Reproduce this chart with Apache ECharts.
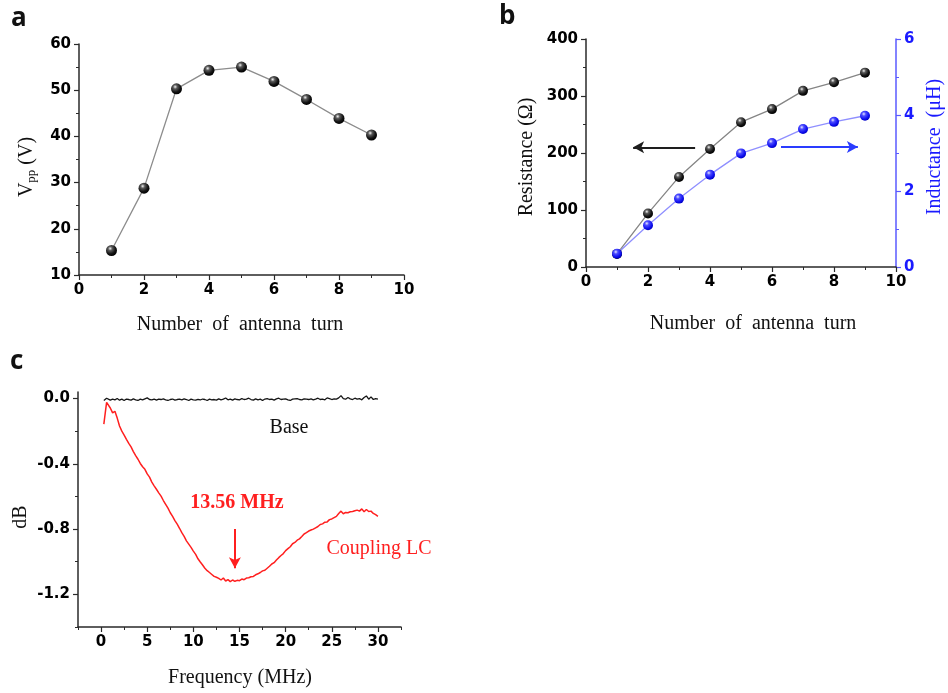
<!DOCTYPE html>
<html>
<head>
<meta charset="utf-8">
<script src="https://cdn.jsdelivr.net/npm/echarts@6/dist/echarts.min.js"></script>
<style>
  html, body { margin: 0; padding: 0; background: #fff; }
  #chart { width: 948px; height: 693px; }
</style>
</head>
<body>
<div id="chart"></div>
<script>
// ---- Panel a / b: antenna turn sweep ----
const turns = [1, 2, 3, 4, 5, 6, 7, 8, 9];
const vppVolts = [15.3, 28.8, 50.3, 54.3, 55.0, 51.9, 48.0, 43.9, 40.3];
const resistanceOhm = [23, 94, 158, 207, 254, 277, 309, 324, 341];
const inductanceUH = [0.35, 1.10, 1.80, 2.43, 2.99, 3.26, 3.63, 3.82, 3.98];

// ---- Panel c: transmission vs frequency [MHz, dB] ----
const baseTrace = [
  [0.3,-0.012],[0.45,-0.002],[0.6,0.002],[0.75,-0.006],[1.0,-0.010],[1.25,-0.004],[1.5,-0.008],[1.75,0.000],
  [2.0,-0.010],[2.25,-0.004],[2.5,-0.012],[2.75,-0.003],[3.0,-0.006],[3.25,-0.010],[3.5,-0.002],[3.75,-0.008],
  [4.0,-0.012],[4.25,-0.004],[4.5,-0.008],[4.75,-0.002],[5.0,0.004],[5.25,-0.006],[5.5,-0.008],[5.75,-0.003],
  [6.0,-0.010],[6.25,-0.004],[6.5,-0.006],[6.75,-0.002],[7.0,-0.008],[7.25,-0.012],[7.5,-0.006],[7.75,-0.003],
  [8.0,-0.010],[8.25,-0.006],[8.5,-0.004],[8.75,-0.008],[9.0,-0.002],[9.25,-0.006],[9.5,-0.012],[9.75,-0.004],
  [10.0,-0.008],[10.25,-0.010],[10.5,-0.005],[10.75,-0.009],[11.0,-0.003],[11.25,-0.006],[11.5,-0.012],[11.75,-0.004],
  [12.0,-0.008],[12.25,-0.006],[12.5,-0.010],[12.75,-0.002],[13.0,-0.008],[13.25,-0.004],[13.5,0.003],[13.75,-0.008],
  [14.0,-0.004],[14.25,-0.010],[14.5,-0.002],[14.75,-0.006],[15.0,-0.008],[15.25,0.000],[15.5,-0.006],[15.75,-0.004],
  [16.0,0.002],[16.25,-0.006],[16.5,-0.010],[16.75,-0.002],[17.0,-0.008],[17.25,-0.004],[17.5,-0.012],[17.75,-0.003],
  [18.0,0.000],[18.25,-0.006],[18.5,-0.004],[18.75,-0.010],[19.0,-0.002],[19.25,0.002],[19.5,-0.006],[19.75,-0.004],
  [20.0,-0.002],[20.25,-0.008],[20.5,-0.012],[20.75,-0.004],[21.0,-0.002],[21.25,0.000],[21.5,-0.006],[21.75,-0.008],
  [22.0,-0.002],[22.25,-0.004],[22.5,-0.006],[22.75,-0.002],[23.0,-0.008],[23.25,-0.004],[23.5,0.002],[23.75,-0.006],
  [24.0,-0.004],[24.25,-0.008],[24.5,0.004],[24.75,0.000],[25.0,-0.006],[25.25,-0.002],[25.5,-0.004],[25.75,0.004],
  [26.0,0.018],[26.25,0.000],[26.5,-0.004],[26.75,0.006],[27.0,-0.002],[27.25,-0.006],[27.5,0.002],[27.75,-0.004],
  [28.0,0.000],[28.25,-0.008],[28.5,0.006],[28.75,0.016],[29.0,-0.004],[29.25,0.010],[29.5,-0.006],[29.75,0.000],
  [30.0,-0.004]
];
const couplingTrace = [
  [0.3,-0.157],[0.45,-0.090],[0.6,-0.024],[0.75,-0.036],[1.0,-0.058],[1.25,-0.088],[1.5,-0.078],[1.75,-0.120],
  [2.0,-0.168],[2.25,-0.200],[2.5,-0.224],[2.75,-0.250],[3.0,-0.275],[3.25,-0.296],[3.5,-0.325],[3.75,-0.350],
  [4.0,-0.372],[4.25,-0.398],[4.5,-0.418],[4.75,-0.434],[5.0,-0.462],[5.25,-0.482],[5.5,-0.512],[5.75,-0.535],
  [6.0,-0.556],[6.25,-0.578],[6.5,-0.598],[6.75,-0.625],[7.0,-0.648],[7.25,-0.672],[7.5,-0.700],[7.75,-0.722],
  [8.0,-0.748],[8.25,-0.770],[8.5,-0.795],[8.75,-0.822],[9.0,-0.845],[9.25,-0.872],[9.5,-0.892],[9.75,-0.912],
  [10.0,-0.935],[10.25,-0.955],[10.5,-0.982],[10.75,-1.002],[11.0,-1.020],[11.25,-1.040],[11.5,-1.055],[11.75,-1.066],
  [12.0,-1.078],[12.25,-1.090],[12.5,-1.095],[12.75,-1.102],[13.0,-1.112],[13.25,-1.100],[13.5,-1.118],[13.75,-1.110],
  [14.0,-1.122],[14.25,-1.112],[14.5,-1.120],[14.75,-1.114],[15.0,-1.116],[15.25,-1.106],[15.5,-1.110],[15.75,-1.100],
  [16.0,-1.098],[16.25,-1.092],[16.5,-1.090],[16.75,-1.080],[17.0,-1.074],[17.25,-1.066],[17.5,-1.056],[17.75,-1.052],
  [18.0,-1.040],[18.25,-1.028],[18.5,-1.014],[18.75,-1.006],[19.0,-0.990],[19.25,-0.975],[19.5,-0.962],[19.75,-0.950],
  [20.0,-0.932],[20.25,-0.920],[20.5,-0.908],[20.75,-0.890],[21.0,-0.882],[21.25,-0.868],[21.5,-0.860],[21.75,-0.846],
  [22.0,-0.830],[22.25,-0.822],[22.5,-0.812],[22.75,-0.806],[23.0,-0.800],[23.25,-0.792],[23.5,-0.784],[23.75,-0.772],
  [24.0,-0.768],[24.25,-0.758],[24.5,-0.756],[24.75,-0.742],[25.0,-0.738],[25.25,-0.730],[25.5,-0.722],[25.75,-0.704],
  [26.0,-0.690],[26.25,-0.706],[26.5,-0.698],[26.75,-0.700],[27.0,-0.694],[27.25,-0.692],[27.5,-0.688],[27.75,-0.684],
  [28.0,-0.690],[28.25,-0.676],[28.5,-0.694],[28.75,-0.680],[29.0,-0.692],[29.25,-0.690],[29.5,-0.704],[29.75,-0.712],
  [30.0,-0.722]
];

// Tick label sets
const freqMajorTicks = [0, 5, 10, 15, 20, 25, 30];
const freqMinorTicks = [-2.5, 2.5, 7.5, 12.5, 17.5, 22.5, 27.5, 32.5];
const dbMajorTicks = [-1.2, -0.8, -0.4, 0.0];
const dbMinorTicks = [-1.4, -1.0, -0.6, -0.2];

// Arrow annotations (data coordinates)
const resistanceArrow = [[3.52, 210], [1.52, 210]];
const inductanceArrow = [[6.29, 3.16], [8.77, 3.16]];
const resonanceArrow = [[14.5, -0.80], [14.5, -1.04]];

const SERIF = '"Liberation Serif", "Times New Roman", serif';
const SANS = '"DejaVu Sans", sans-serif';
const AXIS_DARK = '#2a2a2a';
const BLUE = '#1a1aff';

const blackBall = {
  type: 'radial', x: 0.38, y: 0.32, r: 0.68,
  colorStops: [
    { offset: 0, color: '#f4f4f4' },
    { offset: 0.28, color: '#5a5a5a' },
    { offset: 0.7, color: '#151515' },
    { offset: 1, color: '#000000' }
  ]
};
const blueBall = {
  type: 'radial', x: 0.38, y: 0.32, r: 0.68,
  colorStops: [
    { offset: 0, color: '#e8e8ff' },
    { offset: 0.3, color: '#4d4dff' },
    { offset: 0.75, color: '#1010f0' },
    { offset: 1, color: '#0000c8' }
  ]
};

function valueAxis(opts) {
  const color = opts.color || AXIS_DARK;
  const labelColor = opts.labelColor || '#000';
  return Object.assign({
    type: 'value',
    splitLine: { show: false },
    axisLine: { show: true, onZero: false, lineStyle: { color: color, width: 1.5 } },
    axisTick: { show: true, inside: false, length: 5, lineStyle: { color: color, width: 1.2 } },
    minorTick: { show: true, splitNumber: 2, length: 3, lineStyle: { color: color, width: 1 } },
    axisLabel: { color: labelColor, fontFamily: SANS, fontWeight: 'bold', fontSize: 15, margin: 8 }
  }, opts.extra);
}

function arrowLine(coords, color) {
  return {
    silent: true,
    symbol: ['none', 'arrow'],
    symbolSize: [9, 11],
    label: { show: false },
    lineStyle: { color: color, width: 2, type: 'solid' },
    emphasis: { disabled: true },
    animation: false,
    data: [[{ coord: coords[0] }, { coord: coords[1] }]]
  };
}

function fmtDb(v) {
  const r = Math.round(v * 10) / 10;
  return r === 0 ? '0.0' : r.toFixed(1);
}

const chart = echarts.init(document.getElementById('chart'), null, { renderer: 'canvas' });

const option = {
  animation: false,
  backgroundColor: '#ffffff',
  grid: [
    { left: 79, top: 44, width: 325, height: 231 },
    { left: 586, top: 39, width: 310, height: 228 },
    { left: 78, top: 392, width: 323, height: 235 }
  ],
  xAxis: [
    valueAxis({ extra: { gridIndex: 0, position: 'bottom', min: 0, max: 10, interval: 2 } }),
    valueAxis({ extra: { gridIndex: 1, position: 'bottom', min: 0, max: 10, interval: 2 } }),
    valueAxis({ extra: {
      gridIndex: 2, position: 'bottom', min: -2.5, max: 32.5,
      axisTick: { show: true, length: 3, customValues: freqMinorTicks, lineStyle: { color: AXIS_DARK, width: 1 } },
      minorTick: { show: false },
      axisLabel: { color: '#000', fontFamily: SANS, fontWeight: 'bold', fontSize: 15, margin: 8, customValues: freqMajorTicks }
    } }),
    valueAxis({ extra: {
      gridIndex: 2, position: 'bottom', min: -2.5, max: 32.5,
      axisLine: { show: false, onZero: false },
      axisTick: { show: true, length: 5, customValues: freqMajorTicks, lineStyle: { color: AXIS_DARK, width: 1.2 } },
      minorTick: { show: false },
      axisLabel: { show: false }
    } })
  ],
  yAxis: [
    valueAxis({ extra: { gridIndex: 0, position: 'left', min: 10, max: 60, interval: 10 } }),
    valueAxis({ extra: { gridIndex: 1, position: 'left', min: 0, max: 400, interval: 100 } }),
    valueAxis({ color: '#5a5aff', labelColor: BLUE, extra: { gridIndex: 1, position: 'right', min: 0, max: 6, interval: 2 } }),
    valueAxis({ extra: {
      gridIndex: 2, position: 'left', min: -1.4, max: 0.04,
      axisTick: { show: true, length: 3, customValues: dbMinorTicks, lineStyle: { color: AXIS_DARK, width: 1 } },
      minorTick: { show: false },
      axisLabel: { color: '#000', fontFamily: SANS, fontWeight: 'bold', fontSize: 15, margin: 8,
                   customValues: dbMajorTicks, formatter: fmtDb }
    } }),
    valueAxis({ extra: {
      gridIndex: 2, position: 'left', min: -1.4, max: 0.04,
      axisLine: { show: false, onZero: false },
      axisTick: { show: true, length: 5, customValues: dbMajorTicks, lineStyle: { color: AXIS_DARK, width: 1.2 } },
      minorTick: { show: false },
      axisLabel: { show: false }
    } })
  ],
  series: [
    {
      name: 'Vpp', type: 'line', xAxisIndex: 0, yAxisIndex: 0,
      data: turns.map((t, i) => [t, vppVolts[i]]),
      symbol: 'circle', symbolSize: 11,
      lineStyle: { color: '#8c8c8c', width: 1.3 },
      itemStyle: { color: blackBall, borderWidth: 0 }
    },
    {
      name: 'Resistance', type: 'line', xAxisIndex: 1, yAxisIndex: 1,
      data: turns.map((t, i) => [t, resistanceOhm[i]]),
      symbol: 'circle', symbolSize: 10,
      lineStyle: { color: '#858585', width: 1.3 },
      itemStyle: { color: blackBall, borderWidth: 0 },
      markLine: arrowLine(resistanceArrow, '#1e1e1e')
    },
    {
      name: 'Inductance', type: 'line', xAxisIndex: 1, yAxisIndex: 2,
      data: turns.map((t, i) => [t, inductanceUH[i]]),
      symbol: 'circle', symbolSize: 10,
      lineStyle: { color: '#8f8fff', width: 1.3 },
      itemStyle: { color: blueBall, borderWidth: 0 },
      markLine: arrowLine(inductanceArrow, '#2a3cff')
    },
    {
      name: 'Base', type: 'line', xAxisIndex: 2, yAxisIndex: 3,
      data: baseTrace, showSymbol: false, symbol: 'none',
      lineStyle: { color: '#151515', width: 1.3 }
    },
    {
      name: 'Coupling LC', type: 'line', xAxisIndex: 2, yAxisIndex: 3,
      data: couplingTrace, showSymbol: false, symbol: 'none',
      lineStyle: { color: '#ff1f1f', width: 1.5 },
      markLine: arrowLine(resonanceArrow, '#ff1f1f')
    }
  ],
  graphic: [
    // panel letters
    { type: 'text', x: 11, y: 19, style: { text: 'a', fill: '#111', font: 'bold 26px "Open Sans", "Noto Sans", sans-serif', verticalAlign: 'middle' } },
    { type: 'text', x: 499, y: 17, style: { text: 'b', fill: '#111', font: 'bold 26px "Open Sans", "Noto Sans", sans-serif', verticalAlign: 'middle' } },
    { type: 'text', x: 10, y: 362, style: { text: 'c', fill: '#111', font: 'bold 26px "Open Sans", "Noto Sans", sans-serif', verticalAlign: 'middle' } },

    // panel a titles
    { type: 'text', x: 240, y: 325, style: { text: 'Number  of  antenna  turn', fill: '#111', font: '20px ' + SERIF, align: 'center', verticalAlign: 'middle' } },
    { type: 'text', x: 27, y: 167, rotation: Math.PI / 2, style: {
      text: '{v|V}{s|pp}{v| (V)}', align: 'center', verticalAlign: 'middle',
      rich: {
        v: { fontFamily: SERIF, fontSize: 20, fill: '#111' },
        s: { fontFamily: SERIF, fontSize: 13, fill: '#111', padding: [9, 0, 0, 0] }
      }
    } },

    // panel b titles
    { type: 'text', x: 753, y: 324, style: { text: 'Number  of  antenna  turn', fill: '#111', font: '20px ' + SERIF, align: 'center', verticalAlign: 'middle' } },
    { type: 'text', x: 527, y: 157, rotation: Math.PI / 2, style: { text: 'Resistance (Ω)', fill: '#111', font: '20px ' + SERIF, align: 'center', verticalAlign: 'middle' } },
    { type: 'text', x: 935, y: 147, rotation: Math.PI / 2, style: { text: 'Inductance  (μH)', fill: BLUE, font: '20px ' + SERIF, align: 'center', verticalAlign: 'middle' } },

    // panel c titles and labels
    { type: 'text', x: 240, y: 678, style: { text: 'Frequency (MHz)', fill: '#111', font: '20px ' + SERIF, align: 'center', verticalAlign: 'middle' } },
    { type: 'text', x: 21, y: 517, rotation: Math.PI / 2, style: { text: 'dB', fill: '#111', font: '20px ' + SERIF, align: 'center', verticalAlign: 'middle' } },
    { type: 'text', x: 289, y: 428, style: { text: 'Base', fill: '#111', font: '20px ' + SERIF, align: 'center', verticalAlign: 'middle' } },
    { type: 'text', x: 237, y: 503, style: { text: '13.56 MHz', fill: '#ff1f1f', font: 'bold 20px ' + SERIF, align: 'center', verticalAlign: 'middle' } },
    { type: 'text', x: 379, y: 549, style: { text: 'Coupling LC', fill: '#ff1f1f', font: '20px ' + SERIF, align: 'center', verticalAlign: 'middle' } }
  ]
};

chart.setOption(option);
</script>
</body>
</html>
